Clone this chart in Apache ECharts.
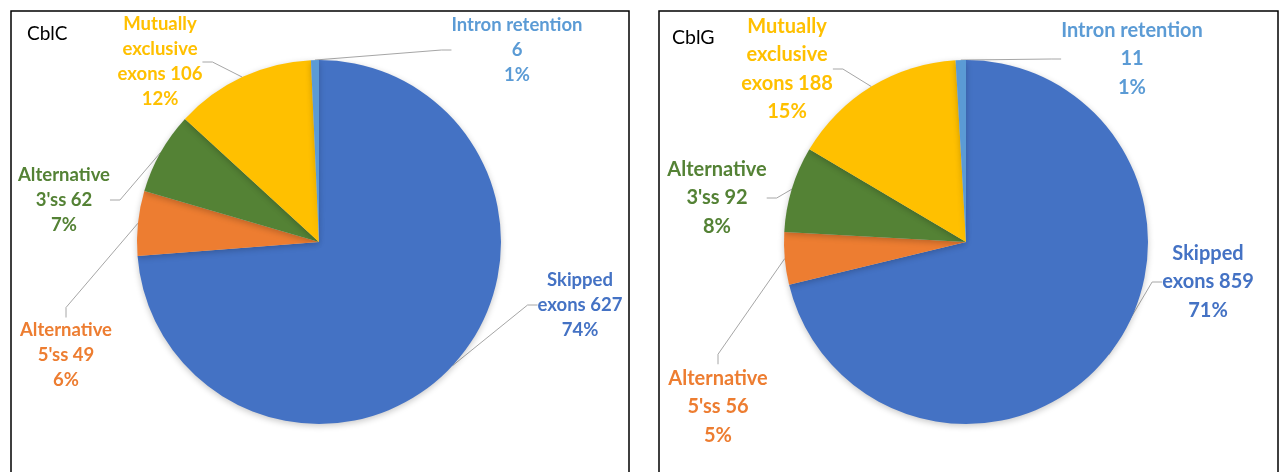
<!DOCTYPE html>
<html>
<head>
<meta charset="utf-8">
<title>CblC / CblG splicing events</title>
<script src="https://cdn.jsdelivr.net/npm/echarts@6/dist/echarts.min.js"></script>
<style>
  html, body { margin: 0; padding: 0; background: #fff; }
  #chart { width: 1284px; height: 472px; }
</style>
</head>
<body>
<div id="chart"></div>
<script>
// event types (label text wraps like the original)
const eventNames = ['Skipped exons', "Alternative 5'ss", "Alternative 3'ss", 'Mutually exclusive exons', 'Intron retention']
const eventLabels = ['Skipped\nexons', "Alternative\n5'ss", "Alternative\n3'ss", 'Mutually\nexclusive\nexons', 'Intron retention\n']
const eventColors = ['#4472C4', '#ED7D31', '#548235', '#FFC000', '#5B9BD5']

const cblcCounts = [627, 49, 62, 106, 6]
const cblgCounts = [859, 56, 92, 188, 11]

// where each label block sits (center), per panel
const cblcLabelPos = [[580, 305], [66, 355], [64, 200], [160, 62], [517, 50]]
const cblgLabelPos = [[1208, 282], [718, 407], [717, 198], [787, 69], [1132, 59]]

const chart = echarts.init(document.getElementById('chart'))

function makePie(counts, center, labelPos, fontSize, lineHeight) {
  return {
    type: 'pie',
    center: center,
    radius: 182,
    startAngle: 90,
    clockwise: true,
    percentPrecision: 0,
    avoidLabelOverlap: false,
    animation: false,
    itemStyle: {
      borderWidth: 0,
      shadowBlur: 6,
      shadowOffsetY: 2,
      shadowColor: 'rgba(0,0,0,0.22)'
    },
    label: {
      show: true,
      position: 'outside',
      fontFamily: 'Lato',
      fontWeight: 'bold',
      fontSize: fontSize,
      lineHeight: lineHeight,
      align: 'center',
      formatter: p => {
        const txt = eventLabels[p.dataIndex]
        const sep = txt.endsWith('\n') ? '' : ' '
        return txt + sep + p.value + '\n' + p.percent + '%'
      }
    },
    labelLine: {
      show: true,
      length: 10,
      length2: 10,
      lineStyle: { color: '#A6A6A6', width: 1 }
    },
    labelLayout: params => ({
      x: labelPos[params.dataIndex][0],
      y: labelPos[params.dataIndex][1],
      align: 'center',
      verticalAlign: 'middle'
    }),
    data: counts.map((v, i) => ({
      name: eventNames[i],
      value: v,
      itemStyle: { color: eventColors[i] },
      label: { color: eventColors[i] }
    }))
  }
}

chart.setOption({
  backgroundColor: '#fff',
  graphic: [
    { type: 'rect', shape: { x: 11, y: 11, width: 618, height: 480 }, style: { fill: 'none', stroke: '#000', lineWidth: 1.5 }, silent: true },
    { type: 'rect', shape: { x: 659, y: 11, width: 619, height: 480 }, style: { fill: 'none', stroke: '#000', lineWidth: 1.5 }, silent: true },
    { type: 'text', left: 27, top: 24, style: { text: 'CblC', font: '19px Lato', fill: '#000' }, silent: true },
    { type: 'text', left: 672, top: 28, style: { text: 'CblG', font: '19.5px Lato', fill: '#000' }, silent: true }
  ],
  series: [
    makePie(cblcCounts, [319, 242], cblcLabelPos, 18.5, 25),
    makePie(cblgCounts, [966, 242], cblgLabelPos, 20, 28.5)
  ]
})
</script>
</body>
</html>
